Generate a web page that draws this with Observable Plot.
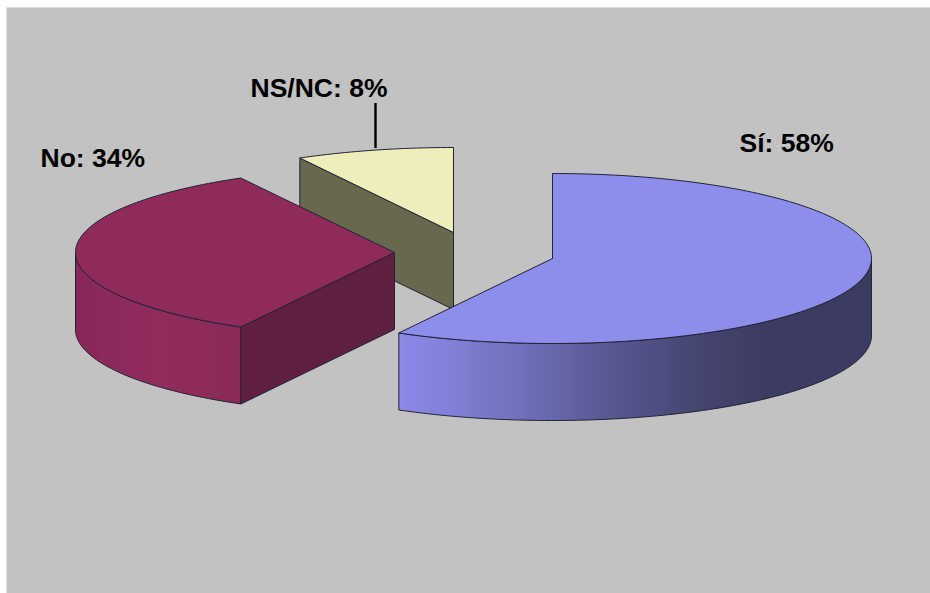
<!DOCTYPE html>
<html>
<head>
<meta charset="utf-8">
<script src="https://cdn.jsdelivr.net/npm/d3@7"></script>
<script src="https://cdn.jsdelivr.net/npm/@observablehq/plot@0.6"></script>
<style>
html,body{margin:0;padding:0;background:#fff;overflow:hidden}
svg{display:block}
</style>
</head>
<body>
<div id="chart"></div>
<script>
const categories = ["Sí", "No", "NS/NC"];
const shares = [58, 34, 8];

// Layout (separate from the data)
const W = 930, H = 593;
const RX = 319, RY = 85, DEPTH = 77;
const centers = [[552, 258], [394, 252], [453, 232]];
const topFill = ["#8d8dec", "#8f2b5b", "#eeeebb"];
const edge = "#222238";

// Angles clockwise from 12 o'clock, derived from the shares
const total = d3.sum(shares);
let acc = 0;
const slices = shares.map((v, i) => {
  const a0 = acc / total * 2 * Math.PI;
  acc += v;
  const a1 = acc / total * 2 * Math.PI;
  return {i, a0, a1, cx: centers[i][0], cy: centers[i][1]};
});
const pt = (s, a, dz = 0) => ({x: s.cx + RX * Math.sin(a), y: s.cy - RY * Math.cos(a) + dz});
const arc = (s, a0, a1, dz = 0) => {
  const n = Math.max(2, Math.ceil(Math.abs(a1 - a0) / 0.02));
  return d3.range(n + 1).map(k => pt(s, a0 + (a1 - a0) * k / n, dz));
};
const hub = (s, dz = 0) => ({x: s.cx, y: s.cy + dz});
const closed = p => [...p, p[0]];
const topFace = s => closed([hub(s), ...arc(s, s.a0, s.a1)]);
const outerWall = (s, a0, a1) => closed([...arc(s, a0, a1), ...arc(s, a1, a0, DEPTH)]);
const cutWall = (s, a) => closed([hub(s), pt(s, a), pt(s, a, DEPTH), hub(s, DEPTH)]);

const [si, no, ns] = slices;
const poly = (points, fill) => Plot.line(points, {
  x: "x", y: "y", fill, stroke: edge, strokeWidth: 1, strokeLinejoin: "round", curve: "linear"
});

const defs = () => {
  const d = d3.create("svg:defs");
  const grad = (id, stops) => {
    const g = d.append("linearGradient").attr("id", id);
    stops.forEach(([o, c]) => g.append("stop").attr("offset", o).attr("stop-color", c));
  };
  grad("siSide", [[0, "#8b8be8"], [0.06, "#8585e0"], [0.27, "#6e6eb8"], [0.43, "#5a5a96"], [0.64, "#44446f"], [0.78, "#3c3c62"], [1, "#3b3b61"]]);
  grad("noSide", [[0, "#87285a"], [0.5, "#912c5c"], [1, "#8a2958"]]);
  return d.node();
};

const labelText = categories.map((c, i) => `${c}: ${shares[i]}%`);
const labelPos = [[739, 143.4], [40, 158.4], [250, 88.4]];
const labels = labelText.map((t, i) => ({t, x: labelPos[i][0], y: labelPos[i][1]}));

const plot = Plot.plot({
  width: W, height: H,
  margin: 0,
  x: {domain: [0, W], range: [0, W], axis: null},
  y: {domain: [0, H], range: [0, H], axis: null},
  style: {background: "#fff"},
  marks: [
    defs,
    Plot.frame({fill: "#c2c2c2", stroke: "none", insetLeft: 6, insetTop: 7}),
    // leader line
    Plot.ruleX([375], {y1: 103, y2: 148, stroke: "#000", strokeWidth: 2.4}),
    // NS/NC
    poly(cutWall(ns, ns.a0), "#68684e"),
    poly(topFace(ns), topFill[2]),
    // No
    poly(outerWall(no, no.a0, 1.5 * Math.PI), "url(#noSide)"),
    poly(cutWall(no, no.a0), "#5f1f40"),
    poly(topFace(no), topFill[1]),
    // Sí
    poly(outerWall(si, 0.5 * Math.PI, si.a1), "url(#siSide)"),
    poly(topFace(si), topFill[0]),
    Plot.text(labels, {
      x: "x", y: "y", text: "t", textAnchor: "start", fill: "#000",
      fontFamily: "Liberation Sans, Arial, sans-serif", fontWeight: "bold", fontSize: 26.5
    })
  ]
});
document.getElementById("chart").append(plot);
</script>
</body>
</html>
